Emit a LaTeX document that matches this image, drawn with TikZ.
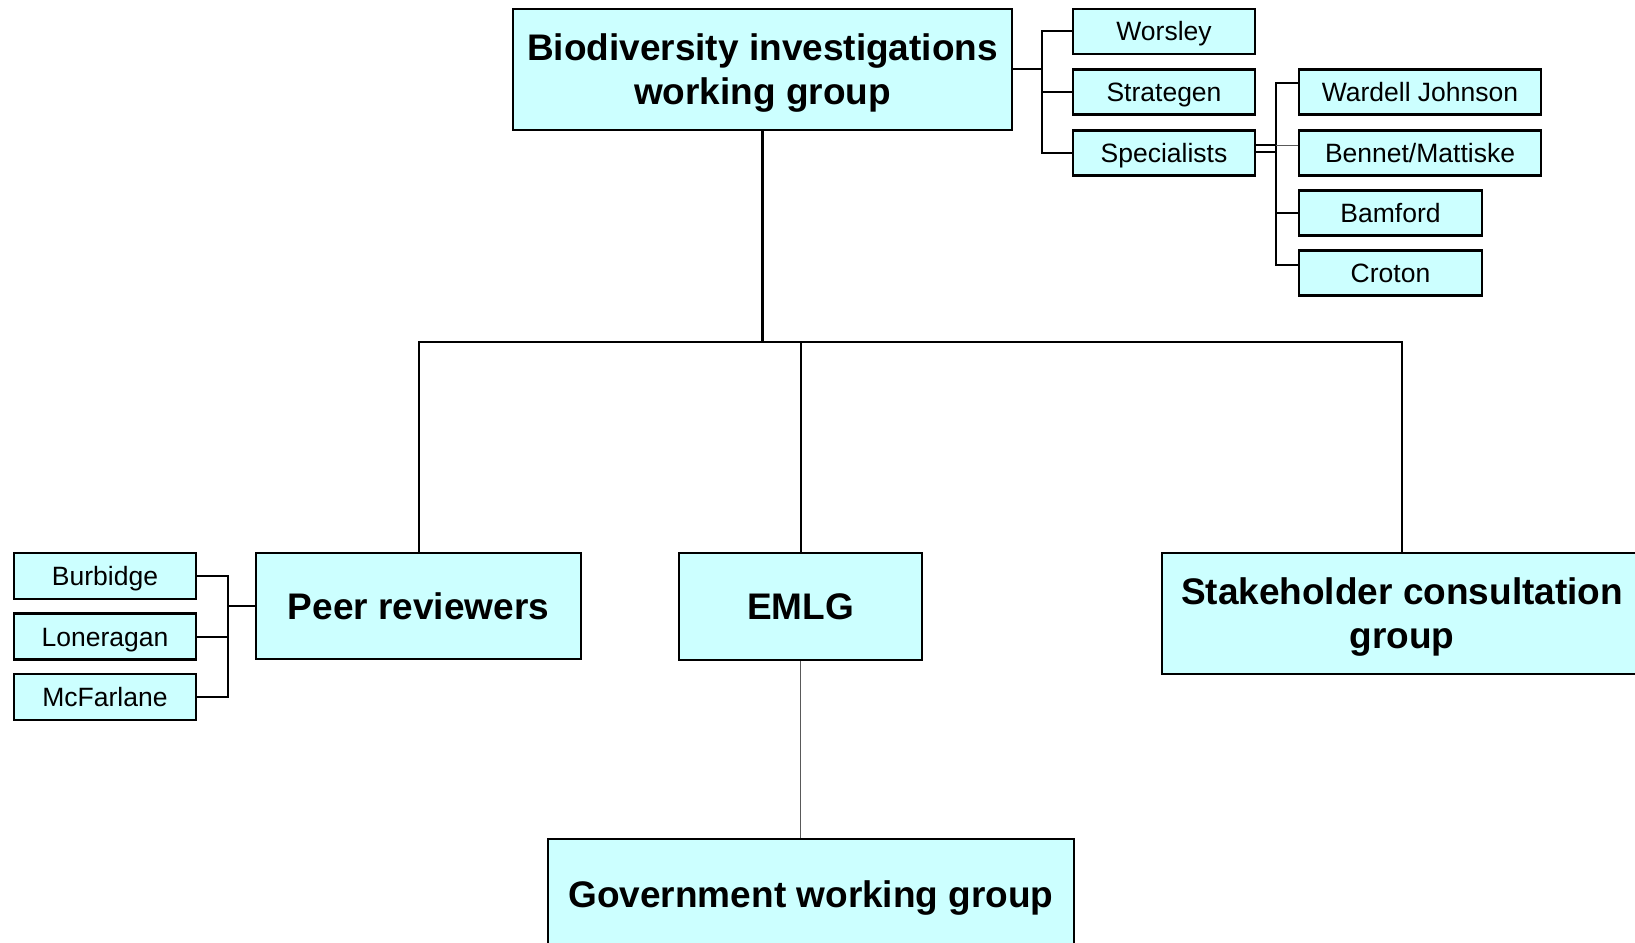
\documentclass[tikz,border=0pt]{standalone}
\usepackage{fontspec}
\setmainfont{Liberation Sans}
\definecolor{boxfill}{HTML}{CCFFFF}
\begin{document}
\begin{tikzpicture}[x=1pt,y=-1pt,
  box/.style={draw=black,fill=boxfill,line width=2.5pt,inner sep=0pt,anchor=center},
  small/.style={box,minimum height=45pt,font=\fontsize{26.5}{30}\selectfont,text height=19pt,text depth=0pt},
  big/.style={box,font=\fontsize{37}{44}\selectfont\bfseries,align=center},
  bigtwo/.style={big,text depth=0pt},
  bigone/.style={big,text height=26.5pt,text depth=0pt},
  conn/.style={line width=2pt,black},
  thickconn/.style={line width=3pt,black},
  thinconn/.style={line width=1pt,black!65}]
\useasboundingbox (0,0) rectangle (1635,942);
\begin{scope}
\clip (0,0) rectangle (1635,942);
% main boxes
\node[bigtwo,minimum width=499pt,minimum height=121pt] (bio) at (762.5,69.5) {Biodiversity investigations\\working group};
\node[bigone,minimum width=325pt,minimum height=106pt] (peer) at (418.5,606) {Peer reviewers};
\node[bigone,minimum width=243pt,minimum height=107pt] (emlg) at (800.5,606.5) {EMLG};
\node[bigtwo,minimum width=480pt,minimum height=121pt] (stake) at (1402,613.5) {Stakeholder consultation\\group};
\node[bigone,minimum width=526pt,minimum height=110pt] (gov) at (811,894) {Government working group};
% top-right small boxes
\node[small,minimum width=182pt] (worsley) at (1164,31.5) {Worsley};
\node[small,minimum width=182pt] (strat) at (1164,92) {Strategen};
\node[small,minimum width=182pt] (spec) at (1164,153) {Specialists};
\node[small,minimum width=242pt] (wardell) at (1420,92) {Wardell Johnson};
\node[small,minimum width=242pt] (bennet) at (1420,153) {Bennet/Mattiske};
\node[small,minimum width=183pt] (bamford) at (1390.5,213) {Bamford};
\node[small,minimum width=183pt] (croton) at (1390.5,273) {Croton};
% left small boxes
\node[small,minimum width=182pt,minimum height=46pt] (burb) at (105,576) {Burbidge};
\node[small,minimum width=182pt,minimum height=46pt] (lon) at (105,636.5) {Loneragan};
\node[small,minimum width=182pt,minimum height=46pt] (mcf) at (105,697) {McFarlane};
% connectors top right
\draw[conn] (worsley.west) -- ++(-30,0) coordinate (tb) |- (spec.west);
\draw[conn] (strat.west) -- (strat.west -| tb);
\draw[conn] (bio.east) -- (bio.east -| tb);
\draw[conn] ([yshift=-15pt]wardell.north west) -- ++(-22,0) coordinate (sb) |- ([yshift=-16pt]croton.north west);
\draw[conn] (bamford.west) -- (bamford.west -| sb);
\draw[conn] ([yshift=8pt]spec.east) -- ([yshift=8pt]spec.east -| sb);
\draw[conn] ([yshift=1pt]spec.east) -- ([yshift=1pt]spec.east -| sb);
\draw[thinconn] ([yshift=8pt]spec.east -| sb) -- ([yshift=8pt]bennet.west);
% connectors left
\draw[conn] (burb.east) -- ++(31,0) coordinate (lb) |- (mcf.east);
\draw[conn] (lon.east) -- (lon.east -| lb);
\draw[conn] (peer.west) -- (peer.west -| lb);
% main tree
\draw[thickconn] (bio.south) -- ++(0,211) coordinate (hj);
\draw[conn] (peer.north) |- (stake.north |- hj) -- (stake.north);
\draw[conn] (emlg.north) -- (emlg.north |- hj);
\draw[thinconn] (emlg.south) -- (emlg.south |- gov.north);
\end{scope}
\end{tikzpicture}
\end{document}
